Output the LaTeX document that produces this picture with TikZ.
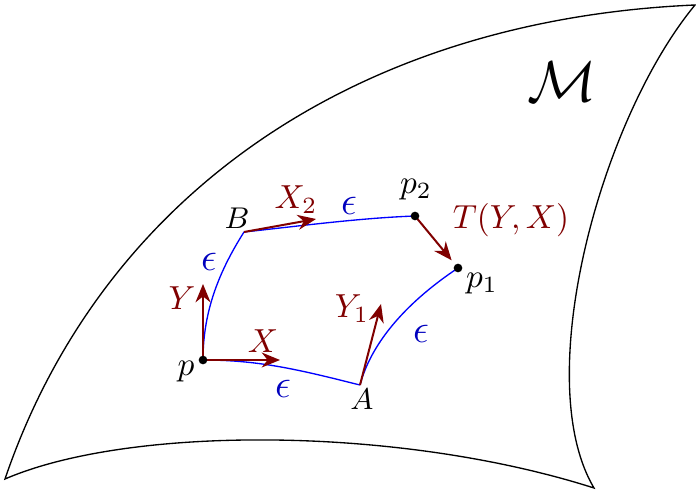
\documentclass[tikz,border=0pt]{standalone}
\usetikzlibrary{arrows.meta}
\definecolor{vecred}{RGB}{128,0,0}
\definecolor{epsblue}{RGB}{0,0,190}
\begin{document}
\begin{tikzpicture}[x=0.3pt,y=-0.3pt,
  edge/.style={blue,line width=0.4pt},
  vec/.style={vecred,line width=0.6pt,-{Stealth[length=5.5pt,width=4.5pt]}},
  vlabel/.style={text=vecred,inner sep=0pt},
  elabel/.style={text=epsblue,inner sep=0pt,font=\large},
  plabel/.style={inner sep=0pt},
  dot/.style={circle,fill=black,inner sep=0pt,minimum size=2.6pt}]
\useasboundingbox (0,0) rectangle (696,490);
% manifold
\draw[line width=0.4pt] (5,479) .. controls (100,200) and (350,20) .. (695,5)
  .. controls (600,120) and (530,380) .. (594,488)
  .. controls (400,426) and (130,425) .. (5,479) -- cycle;
\node[inner sep=0pt] (M) at (562,82) {\fontsize{18.6}{20}\selectfont$\mathcal{M}$};
% points
\coordinate (p) at (203,360);
\coordinate (A) at (360,385);
\coordinate (B) at (244,232);
\coordinate (p2) at (415,216);
\coordinate (p1) at (458,268);
\coordinate (Xe) at (280,360);
\coordinate (Ye) at (203,284);
\coordinate (Y1e) at (381,304);
\coordinate (X2e) at (316,219);
% blue curves
\draw[edge] (p) .. controls (260,360) and (300,370) .. (A);
\draw[edge] (A) .. controls (372,340) and (410,300) .. (p1);
\draw[edge] (p) .. controls (203,310) and (220,270) .. (B);
\draw[edge] (B) .. controls (300,226) and (360,218) .. (p2);
% vectors
\draw[vec] (p) -- (Xe);
\draw[vec] (p) -- (Ye);
\draw[vec] (A) -- (Y1e);
\draw[vec] (B) -- (X2e);
\draw[vec,shorten >=3pt] (p2) -- (p1);
% dots
\node[dot] (pd) at (p) {};
\node[dot] (p1d) at (p1) {};
\node[dot] (p2d) at (p2) {};
% labels
\node[plabel] (pl) at (186,372) {$p$};
\node[plabel] (Al) at (362,399) {\small$A$};
\node[plabel] (Bl) at (237,218) {\small$B$};
\node[plabel] (p2l) at (416,190) {$p_2$};
\node[plabel] (p1l) at (482,284) {$p_1$};
\node[vlabel] (Xl) at (263,341) {$X$};
\node[vlabel] (Yl) at (182,298) {$Y$};
\node[vlabel] (Y1l) at (352,309) {$Y_1$};
\node[vlabel] (X2l) at (296,200) {$X_2$};
\node[vlabel] (Tl) at (511,220) {$T(Y,X)$};
\node[elabel] (e1) at (283,389) {$\epsilon$};
\node[elabel] (e2) at (209,262) {$\epsilon$};
\node[elabel] (e3) at (349,206) {$\epsilon$};
\node[elabel] (e4) at (421,334) {$\epsilon$};
\end{tikzpicture}
\end{document}
